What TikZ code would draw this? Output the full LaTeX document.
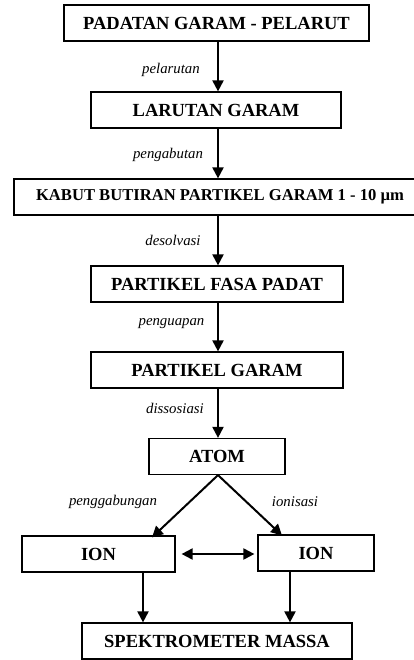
\documentclass[tikz,border=0pt]{standalone}
\usepackage{fontspec}
\setmainfont{Liberation Serif}
\usetikzlibrary{arrows.meta, positioning}

\tikzset{
  box/.style = {draw, line width=1.2pt, minimum height=36pt, inner sep=0pt,
                font=\fontsize{18.5}{20}\selectfont\bfseries},
  arr/.style = {line width=2pt, -{Triangle[width=11pt,length=11pt]}},
  lbl/.style = {font=\fontsize{14.8}{16}\selectfont\itshape}
}

\begin{document}
\begin{tikzpicture}[x=1pt, y=-1pt]
\useasboundingbox (0,0) rectangle (414,660);
% main column
\node[box, minimum width=305pt](padatan) at (216.5,23){PADATAN GARAM - PELARUT};
\node[box, minimum width=250pt](larutan) at (216,110){LARUTAN GARAM};
\node[box, minimum width=412pt, font=\fontsize{16.6}{18}\selectfont\bfseries](kabut) at (220,197){KABUT BUTIRAN PARTIKEL GARAM 1 - 10 µm};
\node[box, minimum width=252pt](fasa) at (217,284){PARTIKEL FASA PADAT};
\node[box, minimum width=252pt](partikel) at (217,370){PARTIKEL GARAM};
\node[box, minimum width=136pt](atom) at (217,456.5){ATOM};
\node[box, minimum width=153pt](ionL) at (98.5,554){ION};
\node[box, minimum width=116pt](ionR) at (316,553){ION};
\node[box, minimum width=270pt](spek) at (217,641){SPEKTROMETER MASSA};

% labels
\node[lbl](l1) at (171,70){pelarutan};
\node[lbl](l2) at (168,155){pengabutan};
\node[lbl](l3) at (173,240){desolvasi};
\node[lbl](l4) at (171.5,324){penguapan};
\node[lbl](l5) at (175,408){dissosiasi};
\node[lbl](l6) at (113,502){penggabungan};
\node[lbl](l7) at (295,502){ionisasi};

% arrows
\draw[arr] ([xshift=1.5pt]padatan.south) -- ([xshift=1.5pt]padatan.south |- larutan.north);
\draw[arr] ([xshift=2pt]larutan.south) -- ([xshift=2pt]larutan.south |- kabut.north);
\draw[arr] ([xshift=1pt]fasa.north |- kabut.south) -- ([xshift=1pt]fasa.north);
\draw[arr] ([xshift=1pt]fasa.south) -- ([xshift=1pt]fasa.south |- partikel.north);
\draw[arr] ([xshift=1pt]partikel.south) -- ([xshift=1pt]partikel.south |- atom.north);
\draw[arr] ([xshift=1pt]atom.south) -- ([xshift=53.5pt, yshift=-2pt]ionL.north);
\draw[arr] ([xshift=1pt]atom.south) -- ([xshift=-34pt, yshift=-1pt]ionR.north);
\draw[line width=2pt, {Triangle[width=11pt,length=11pt]}-{Triangle[width=11pt,length=11pt]}] ([xshift=6pt]ionL.east) -- ([xshift=-3pt]ionR.west |- ionL.east);
\draw[arr] ([xshift=44.5pt]ionL.south) -- ([xshift=44.5pt]ionL.south |- spek.north);
\draw[arr] ([xshift=-26pt]ionR.south) -- ([xshift=-26pt]ionR.south |- spek.north);
\end{tikzpicture}
\end{document}
